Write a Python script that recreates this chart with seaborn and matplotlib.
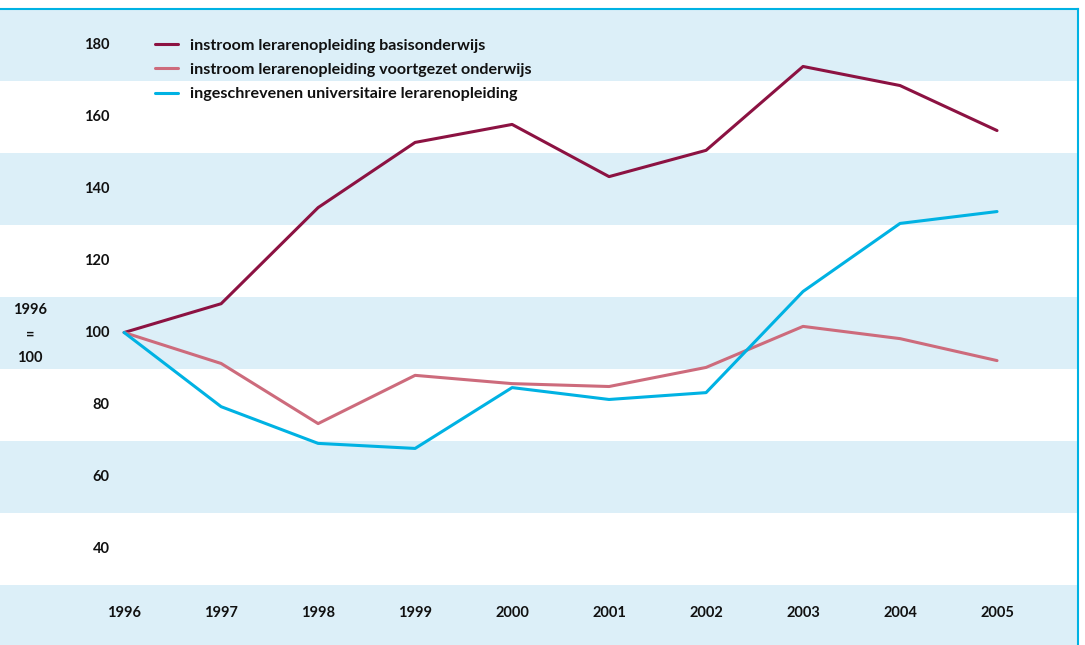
import numpy as np
import pandas as pd
import matplotlib
matplotlib.use("Agg")
import matplotlib.pyplot as plt
import seaborn as sns

years = [1996, 1997, 1998, 1999, 2000, 2001, 2002, 2003, 2004, 2005]
basis = [100, 108.0, 134.7, 152.8, 157.8, 143.3, 150.6, 173.9, 168.6, 156.1]
voortgezet = [100, 91.4, 74.7, 88.1, 85.8, 85.0, 90.3, 101.7, 98.3, 92.2]
universitair = [100, 79.4, 69.2, 67.8, 84.7, 81.4, 83.3, 111.4, 130.3, 133.6]

series_names = ["instroom lerarenopleiding basisonderwijs",
                "instroom lerarenopleiding voortgezet onderwijs",
                "ingeschrevenen universitaire lerarenopleiding"]
y_ticks = [40, 60, 80, 100, 120, 140, 160, 180]

colors = ["#8C1242", "#CD6B7C", "#00B2E3"]
band_col = "#DCEFF8"

df = pd.DataFrame({
    "jaar": years * 3,
    "index": basis + voortgezet + universitair,
    "reeks": [series_names[0]] * 10 + [series_names[1]] * 10 + [series_names[2]] * 10,
})

sns.set_style("white")
plt.rcParams["font.family"] = ["Lato", "DejaVu Sans"]

fig = plt.figure(figsize=(10.85, 6.45), dpi=100)
ax = fig.add_axes([0, 0, 1078 / 1085, 1 - 8.5 / 645])

y_lo, y_hi = 13.2, 190
ax.set_ylim(y_lo, y_hi)
ax.set_xlim(1994.72, 2005.835)

# alternating bands centred on 180, 140, 100, 60 and below 30
for lo, hi in [(170, 190), (130, 150), (90, 110), (50, 70), (y_lo, 30)]:
    ax.axhspan(lo, hi, color=band_col, lw=0, zorder=0)

sns.lineplot(data=df, x="jaar", y="index", hue="reeks", palette=colors,
             linewidth=2.2, ax=ax, legend=True, zorder=3)

for t in y_ticks:
    ax.text(1995.85, t, str(t), ha="right", va="center",
            fontsize=10.5, fontweight="bold", color="#111111")
for yr in years:
    ax.text(yr, 22.1, str(yr), ha="center", va="center",
            fontsize=10.5, fontweight="bold", color="#111111")
for yy, s in [(106.2, "1996"), (99.5, "="), (93.0, "100")]:
    ax.text(1995.03, yy, s, ha="center", va="center",
            fontsize=10.5, fontweight="bold", color="#111111")

ax.set_xticks([])
ax.set_yticks([])
ax.set_xlabel("")
ax.set_ylabel("")
for side in ["left", "bottom"]:
    ax.spines[side].set_visible(False)
for side in ["top", "right"]:
    ax.spines[side].set_color("#00B2E3")
    ax.spines[side].set_linewidth(1.5)

leg = ax.legend(loc="upper left", bbox_to_anchor=(155 / 1078, 1 - 30 / 636.5),
                frameon=False, borderaxespad=0, borderpad=0,
                handlelength=1.45, handletextpad=0.75,
                labelspacing=0.62, prop={"size": 11.6, "weight": "bold"})
for txt in leg.get_texts():
    txt.set_color("#111111")

plt.savefig("out.png", dpi=100)
plt.close()
